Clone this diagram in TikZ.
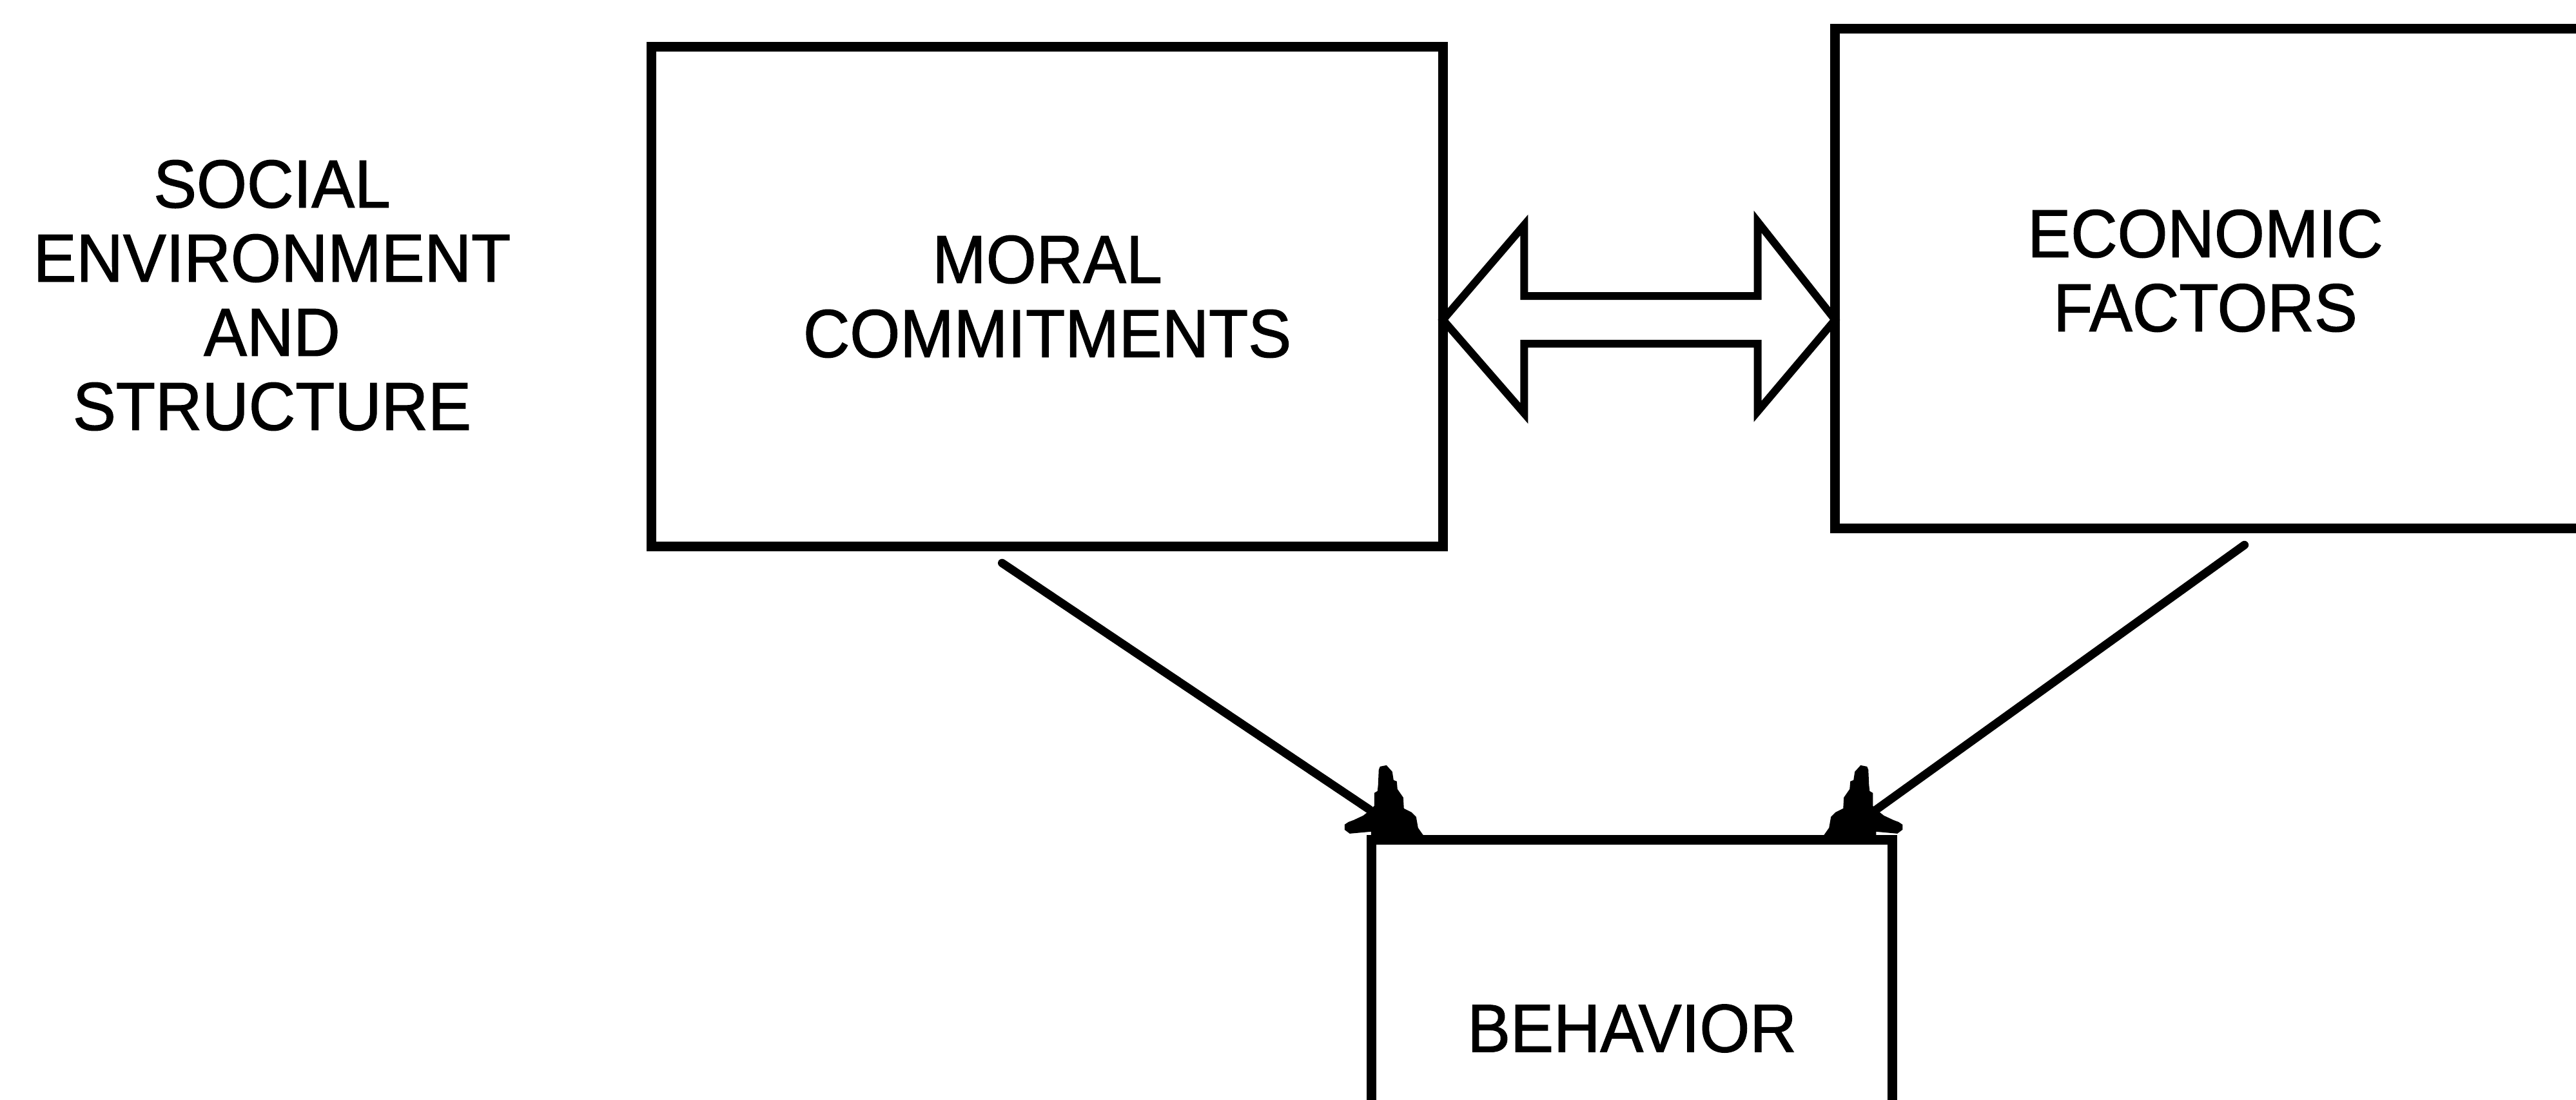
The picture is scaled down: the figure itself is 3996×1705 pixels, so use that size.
\documentclass[tikz,border=0pt]{standalone}
\usepackage{fontspec}
\setmainfont{Liberation Sans}[FakeStretch=0.95, FakeBold=1.2]
\usetikzlibrary{calc}
\begin{document}
\begin{tikzpicture}[x=0.01cm, y=-0.01cm,
  box/.style={draw=black, line width=0.15cm, rectangle, inner sep=0pt, outer sep=0pt},
  lbl/.style={font=\fontsize{30pt}{32.7pt}\selectfont, align=center, inner sep=0pt},
  conn/.style={draw=black, line width=0.13cm, line cap=round},
  dblarrow/.style={draw=black, line width=0.12cm, line join=miter},
  spire/.pic={
    \fill[black] (-6,2) -- (4,0) -- (13,10) -- (15,23) -- (20,25) -- (21,37)
      -- (30,50) -- (31,67) -- (43,73) -- (50,80) -- (53,97) -- (60,107)
      -- (64,112) -- (64,116) -- (-20,116) -- (-20,103) -- (-53,106)
      -- (-61,100) -- (-61,92) -- (-55,88) -- (-47,85) -- (-32,78)
      -- (-22,70) -- (-15,63) -- (-15,43) -- (-10,40) -- (-9,30) -- (-8,7) -- cycle;
  }]
% page area
\useasboundingbox (0,0) rectangle (3996,1705);
\clip (0,0) rectangle (3996,1705);
\fill[white] (0,0) rectangle (3996,1705);

% left-hand caption
\node[lbl] (social) at (422,458) {SOCIAL\\ENVIRONMENT\\AND\\STRUCTURE};

% boxes
\node[box, lbl, minimum width=12.27cm, minimum height=7.74cm] (moral) at (1624.5,460) {MORAL\\COMMITMENTS};
\node[box, minimum width=12cm, minimum height=7.74cm] (economic) at (3447,432) {};
\node[lbl] (ecolbl) at (3421,420) {ECONOMIC\\FACTORS};
\node[box, lbl, minimum width=8.07cm, minimum height=5.84cm] (behavior) at (2531.5,1595) {BEHAVIOR};

% hollow double arrow between the two upper boxes
\coordinate (dl) at ($(moral.east)+(0,36)$);
\coordinate (dr) at (economic.west |- dl);
\draw[dblarrow] (dl) -- ($(dl)+(126,-147)$) -- ($(dl)+(126,-37)$)
  -- ($(dr)+(-120,-37)$) -- ($(dr)+(-120,-152)$) -- (dr)
  -- ($(dr)+(-120,142)$) -- ($(dr)+(-120,37)$)
  -- ($(dl)+(126,37)$) -- ($(dl)+(126,145)$) -- cycle;

% connectors into the behavior box
\coordinate (fromL) at ($(moral.south)+(-70,26)$);
\coordinate (toL) at ($(behavior.north west)+(-3,-47)$);
\coordinate (fromR) at ($(economic.south west)+(635,26)$);
\coordinate (toR) at ($(behavior.north east)+(-25,-47)$);
\draw[conn] (fromL) -- (toL);
\draw[conn] (fromR) -- (toR);

% arrow tips on the behavior box
\coordinate (tipL) at ($(behavior.north west)+(19,-116)$);
\coordinate (tipR) at ($(behavior.north east)+(-45,-116)$);
\pic at (tipL) {spire};
\pic[xscale=-1] at (tipR) {spire};
\end{tikzpicture}
\end{document}
